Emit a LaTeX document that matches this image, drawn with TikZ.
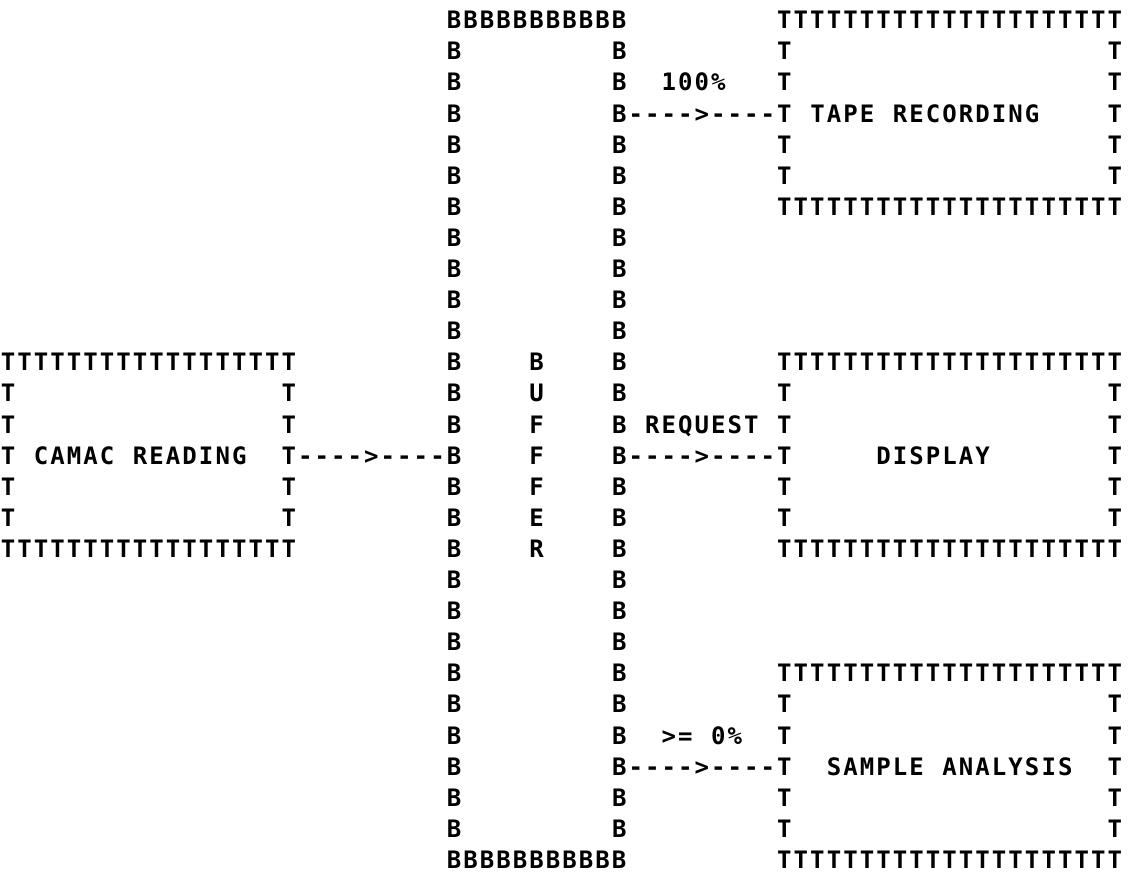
\documentclass[tikz,border=0pt]{standalone}
\usepackage{fontspec}
\newfontfamily\prfont{DejaVu Sans Mono}
\newlength\pitch
\setlength\pitch{16.52pt}
\makeatletter
\newcommand\chs[1]{\chs@#1\relax}
\def\chs@#1{\ifx#1\relax\else\makebox[\pitch][c]{#1}\expandafter\chs@\fi}
\makeatother
% place text (chars on a fixed grid) at column #2, line #3
\newcommand\prow[4]{\node[txt] (#1) at ({8+16.52*#2-8.26},{-20-31.1*#3-8.75}) {\chs{#4}};}
\begin{document}
\begin{tikzpicture}[x=1pt,y=1pt,
  txt/.style={inner sep=0pt,outer sep=0pt,anchor=base west,
    font=\prfont\bfseries\fontsize{24}{24}\selectfont}]
\useasboundingbox (0,0) rectangle (1133,-883);
% ---------------- CAMAC READING box
\prow{camactop}{0}{11}{TTTTTTTTTTTTTTTTTT}
\foreach \r in {12,...,16}{\prow{camacl\r}{0}{\r}{T}\prow{camacr\r}{17}{\r}{T}}
\prow{camac}{2}{14}{CAMAC~READING}
\prow{camacbot}{0}{17}{TTTTTTTTTTTTTTTTTT}
\prow{arrowin}{18}{14}{---->----}
% ---------------- BUFFER
\prow{buftop}{27}{0}{BBBBBBBBBBB}
\foreach \r in {1,...,26}{\prow{bufl\r}{27}{\r}{B}\prow{bufr\r}{37}{\r}{B}}
\prow{bufbot}{27}{27}{BBBBBBBBBBB}
\prow{bufB}{32}{11}{B}
\prow{bufU}{32}{12}{U}
\prow{bufF1}{32}{13}{F}
\prow{bufF2}{32}{14}{F}
\prow{bufF3}{32}{15}{F}
\prow{bufE}{32}{16}{E}
\prow{bufR}{32}{17}{R}
% ---------------- connectors out
\prow{lab100}{40}{2}{100\%}
\prow{arrowtape}{38}{3}{---->----}
\prow{labreq}{39}{13}{REQUEST}
\prow{arrowdisp}{38}{14}{---->----}
\prow{labge}{40}{23}{>=~0\%}
\prow{arrowsamp}{38}{24}{---->----}
% ---------------- TAPE RECORDING box
\prow{tapetop}{47}{0}{TTTTTTTTTTTTTTTTTTTTT}
\foreach \r in {1,...,5}{\prow{tapel\r}{47}{\r}{T}\prow{taper\r}{67}{\r}{T}}
\prow{tape}{49}{3}{TAPE~RECORDING}
\prow{tapebot}{47}{6}{TTTTTTTTTTTTTTTTTTTTT}
% ---------------- DISPLAY box
\prow{disptop}{47}{11}{TTTTTTTTTTTTTTTTTTTTT}
\foreach \r in {12,...,16}{\prow{displ\r}{47}{\r}{T}\prow{dispr\r}{67}{\r}{T}}
\prow{disp}{53}{14}{DISPLAY}
\prow{dispbot}{47}{17}{TTTTTTTTTTTTTTTTTTTTT}
% ---------------- SAMPLE ANALYSIS box
\prow{samptop}{47}{21}{TTTTTTTTTTTTTTTTTTTTT}
\foreach \r in {22,...,26}{\prow{sampl\r}{47}{\r}{T}\prow{sampr\r}{67}{\r}{T}}
\prow{samp}{50}{24}{SAMPLE~ANALYSIS}
\prow{sampbot}{47}{27}{TTTTTTTTTTTTTTTTTTTTT}
\end{tikzpicture}
\end{document}
